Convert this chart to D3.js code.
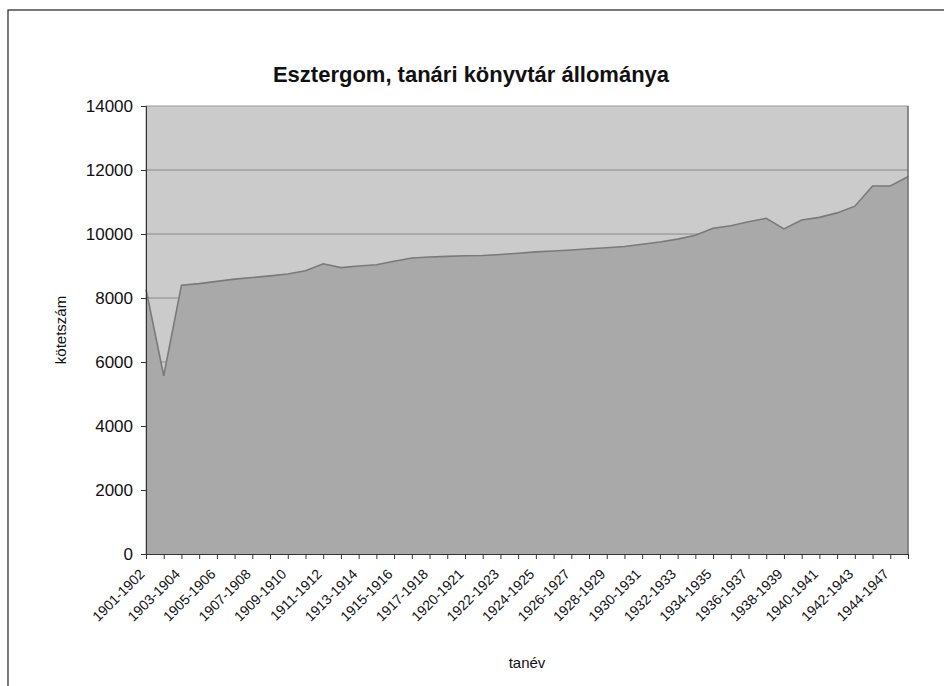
<!DOCTYPE html>
<html>
<head>
<meta charset="utf-8">
<script src="https://cdn.jsdelivr.net/npm/d3@7"></script>
<style>
  body { margin: 0; background: #fff; }
  text { font-family: Arial, "Liberation Sans", sans-serif; fill: #111; }
</style>
</head>
<body>
<div class="board"></div>
<script>
// tanévek (44 pont)
var years = [
  '1901-1902','1902-1903','1903-1904','1904-1905','1905-1906','1906-1907',
  '1907-1908','1908-1909','1909-1910','1910-1911','1911-1912','1912-1913',
  '1913-1914','1914-1915','1915-1916','1916-1917','1917-1918','1918-1919',
  '1920-1921','1921-1922','1922-1923','1923-1924','1924-1925','1925-1926',
  '1926-1927','1927-1928','1928-1929','1929-1930','1930-1931','1931-1932',
  '1932-1933','1933-1934','1934-1935','1935-1936','1936-1937','1937-1938',
  '1938-1939','1939-1940','1940-1941','1941-1942','1942-1943','1943-1944',
  '1944-1947','1947-1948'
];

var volumes = [
  8270, 5570, 8400, 8450, 8520, 8590, 8640, 8690, 8750, 8850, 9070, 8950,
  9000, 9040, 9150, 9250, 9280, 9300, 9320, 9330, 9360, 9400, 9440, 9470,
  9500, 9540, 9570, 9610, 9680, 9750, 9840, 9960, 10180, 10260, 10380, 10490,
  10160, 10440, 10520, 10660, 10870, 11500, 11500, 11790
];

var yTicks = [0, 2000, 4000, 6000, 8000, 10000, 12000, 14000];

var W = 944, H = 686;
var plotL = 146, plotR = 908, plotT = 106, plotB = 554;

var svg = d3.select('.board').append('svg')
            .attr('width', W)
            .attr('height', H);

// outer chart frame (runs off the right and bottom edge)
svg.append('rect')
   .attr('x', 8).attr('y', 10)
   .attr('width', 960).attr('height', 700)
   .attr('fill', 'none')
   .attr('stroke', '#222')
   .attr('stroke-width', 1.2);

var x = d3.scalePoint()
          .domain(years)
          .range([plotL, plotR]);

var y = d3.scaleLinear()
          .domain([0, 14000])
          .range([plotB, plotT]);

// plot background
svg.append('rect')
   .attr('x', plotL).attr('y', plotT)
   .attr('width', plotR - plotL).attr('height', plotB - plotT)
   .attr('fill', '#cbcbcb')
   .attr('stroke', '#9a9a9a');

// gridlines
svg.append('g')
   .selectAll('line')
   .data(yTicks.filter(function(d){ return d > 0 && d < 14000; }))
   .enter()
   .append('line')
   .attr('x1', plotL).attr('x2', plotR)
   .attr('y1', function(d){ return y(d); })
   .attr('y2', function(d){ return y(d); })
   .attr('stroke', '#8a8a8a')
   .attr('stroke-width', 1);

var area = d3.area()
             .x(function(d, i){ return x(years[i]); })
             .y0(y(0))
             .y1(function(d){ return y(d); });

var line = d3.line()
             .x(function(d, i){ return x(years[i]); })
             .y(function(d){ return y(d); });

svg.append('path')
   .datum(volumes)
   .attr('d', area)
   .attr('fill', '#a9a9a9');

svg.append('path')
   .datum(volumes)
   .attr('d', line)
   .attr('fill', 'none')
   .attr('stroke', '#7a7a7a')
   .attr('stroke-width', 1.6);

// right border of plot
svg.append('line')
   .attr('x1', plotR).attr('x2', plotR)
   .attr('y1', plotT).attr('y2', plotB)
   .attr('stroke', '#555');

// axes
var yAxis = svg.append('g')
   .attr('transform', 'translate(' + plotL + ',0)')
   .call(d3.axisLeft(y).tickValues(yTicks).tickSize(5).tickPadding(8).tickFormat(d3.format('d')));
yAxis.selectAll('text').style('font-size', '17px');
yAxis.selectAll('line, path').attr('stroke', '#333');

var xAxis = svg.append('g')
   .attr('transform', 'translate(0,' + plotB + ')')
   .call(d3.axisBottom(x).tickSize(5).tickSizeOuter(0)
          .tickFormat(function(d, i){ return i % 2 === 0 ? d : ''; }));
xAxis.selectAll('line, path').attr('stroke', '#333');
xAxis.selectAll('text')
     .style('font-size', '14px')
     .attr('text-anchor', 'end')
     .attr('y', 0)
     .attr('dy', 0)
     .attr('transform', 'translate(-1,21) rotate(-45)');

// titles
svg.append('text')
   .attr('x', 471).attr('y', 82)
   .attr('text-anchor', 'middle')
   .style('font-size', '22px')
   .style('font-weight', 'bold')
   .text('Esztergom, tanári könyvtár állománya');

svg.append('text')
   .attr('transform', 'translate(66,' + ((plotT + plotB) / 2) + ') rotate(-90)')
   .attr('text-anchor', 'middle')
   .style('font-size', '15px')
   .text('kötetszám');

svg.append('text')
   .attr('x', (plotL + plotR) / 2).attr('y', 668)
   .attr('text-anchor', 'middle')
   .style('font-size', '15px')
   .text('tanév');
</script>
</body>
</html>
